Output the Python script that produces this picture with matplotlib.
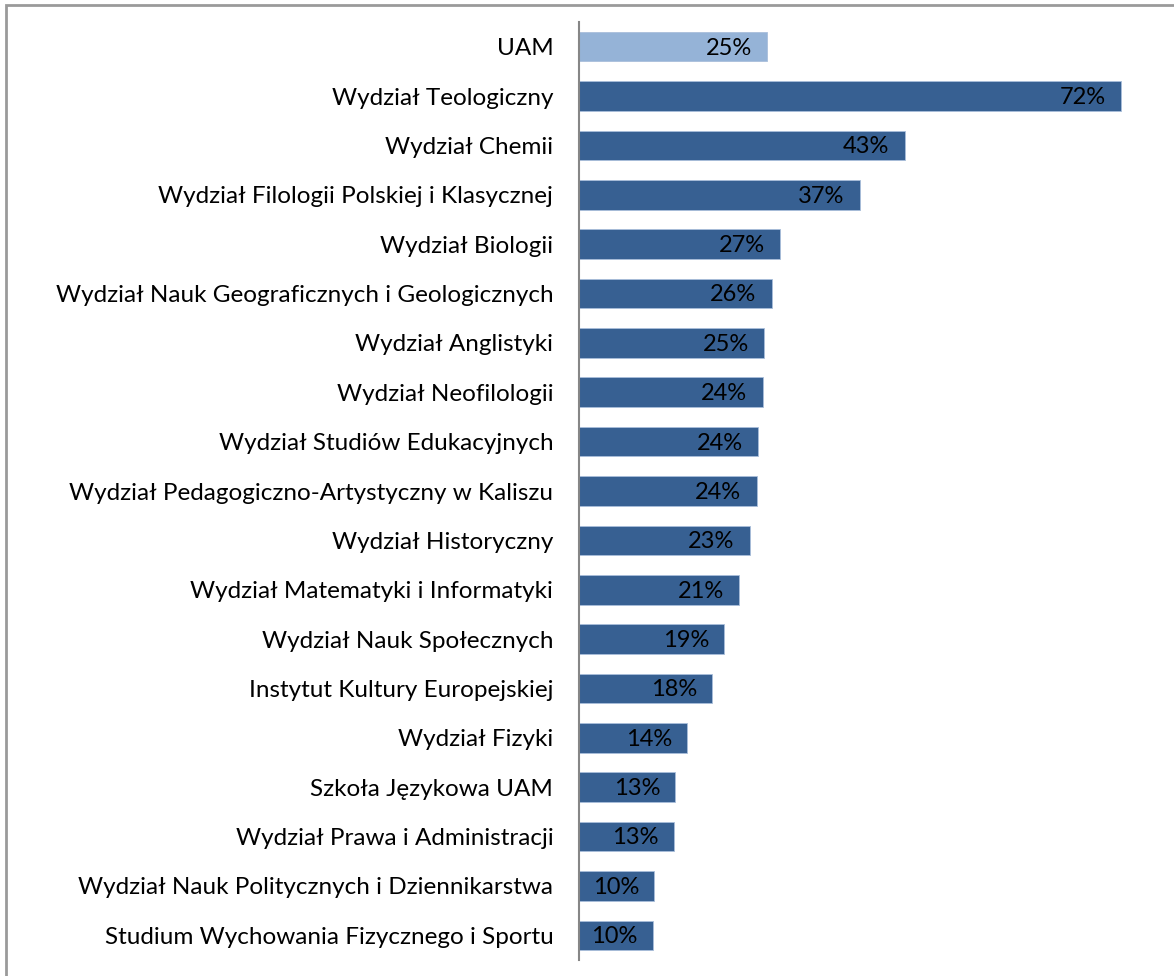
import matplotlib
matplotlib.use('Agg')
import matplotlib.pyplot as plt
from matplotlib.patches import Rectangle

# Data (top to bottom)
categories = ['UAM', 'Wydział Teologiczny', 'Wydział Chemii',
              'Wydział Filologii Polskiej i Klasycznej', 'Wydział Biologii',
              'Wydział Nauk Geograficznych i Geologicznych',
              'Wydział Anglistyki', 'Wydział Neofilologii',
              'Wydział Studiów Edukacyjnych',
              'Wydział Pedagogiczno-Artystyczny w Kaliszu',
              'Wydział Historyczny', 'Wydział Matematyki i Informatyki',
              'Wydział Nauk Społecznych', 'Instytut Kultury Europejskiej',
              'Wydział Fizyki', 'Szkoła Językowa UAM',
              'Wydział Prawa i Administracji',
              'Wydział Nauk Politycznych i Dziennikarstwa',
              'Studium Wychowania Fizycznego i Sportu']
values = [25.0, 72.0, 43.3, 37.3, 26.7, 25.6, 24.6, 24.4, 23.8, 23.6,
          22.7, 21.3, 19.3, 17.7, 14.4, 12.8, 12.6, 10.0, 9.8]

dark = '#376092'
light = '#95B3D7'
colors = [light] + [dark] * (len(values) - 1)

plt.rcParams['font.family'] = ['Lato', 'DejaVu Sans']

fig = plt.figure(figsize=(11.74, 9.76), dpi=100)
ax = fig.add_axes([579 / 1174, 16 / 976, (1151 - 579) / 1174, (960 - 16 - 6) / 976])

y = list(range(len(categories)))
bars = ax.barh(y, values, height=0.6, color=colors, edgecolor='#A9BEDB',
               linewidth=0.6)
ax.set_ylim(len(categories) - 0.5, -0.5)
ax.set_xlim(0, 76)

ax.set_yticks(y)
ax.set_yticklabels(categories, fontsize=17.5, color='black')
ax.tick_params(axis='y', length=0, pad=18.5)
ax.set_xticks([])

for s in ['top', 'right', 'bottom']:
    ax.spines[s].set_visible(False)
ax.spines['left'].set_color('#868686')
ax.spines['left'].set_linewidth(1.5)

# data labels, inside end
for bar, v in zip(bars, values):
    ax.annotate('{0:.0f}%'.format(v),
                xy=(bar.get_width(), bar.get_y() + bar.get_height() / 2),
                xytext=(-11, -1), textcoords='offset points',
                ha='right', va='center', fontsize=17, color='black')

# outer frame of the chart area
fig.patches.append(Rectangle((6 / 1174, -0.1), 1.2, 1 - 5 / 976 + 0.1,
                             transform=fig.transFigure, fill=False,
                             edgecolor='#9a9a9a', linewidth=2))

fig.savefig('out.png', dpi=100)
